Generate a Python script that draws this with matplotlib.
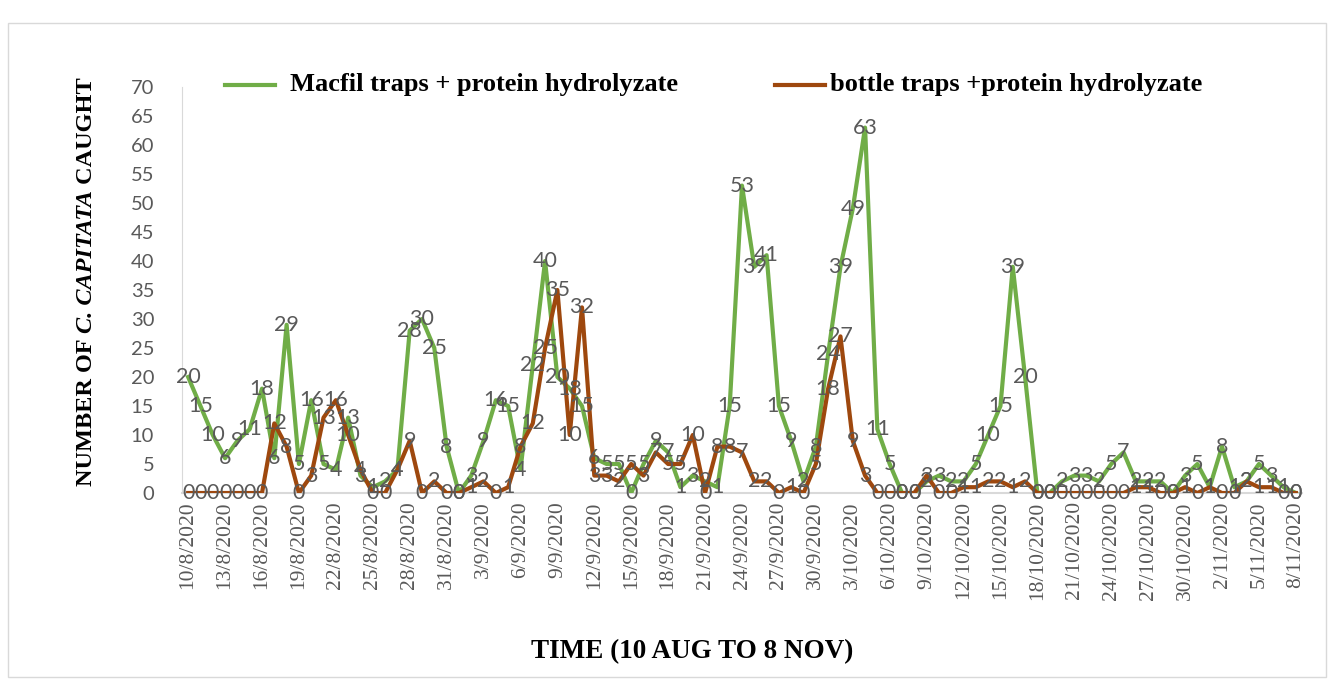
import matplotlib
matplotlib.use("Agg")
import matplotlib.pyplot as plt
from matplotlib.lines import Line2D
from matplotlib.patches import Rectangle
import datetime as dt

# ---------------- data ----------------
start = dt.date(2020, 8, 10)
dates = [start + dt.timedelta(days=i) for i in range(91)]
date_labels = [f"{d.day}/{d.month}/{d.year}" for d in dates]

macfil = [20, 15, 10, 6, 9, 11, 18, 6, 29, 5,
          16, 5, 4, 13, 3, 1, 2, 4, 28, 30,
          25, 8, 0, 3, 9, 16, 15, 4, 22, 40,
          20, 18, 15, 6, 5, 5, 0, 5, 9, 7,
          1, 3, 2, 1, 15, 53, 39, 41, 15, 9,
          2, 8, 24, 39, 49, 63, 11, 5, 0, 0,
          2, 3, 2, 2, 5, 10, 15, 39, 20, 0,
          0, 2, 3, 3, 2, 5, 7, 2, 2, 2,
          0, 3, 5, 1, 8, 1, 2, 5, 3, 1,
          0]

bottle = [0, 0, 0, 0, 0, 0, 0, 12, 8, 0,
          3, 13, 16, 10, 4, 0, 0, 4, 9, 0,
          2, 0, 0, 1, 2, 0, 1, 8, 12, 25,
          35, 10, 32, 3, 3, 2, 5, 3, 7, 5,
          5, 10, 0, 8, 8, 7, 2, 2, 0, 1,
          0, 5, 18, 27, 9, 3, 0, 0, 0, 0,
          3, 0, 0, 1, 1, 2, 2, 1, 2, 0,
          0, 0, 0, 0, 0, 0, 0, 1, 1, 0,
          0, 1, 0, 1, 0, 0, 2, 1, 1, 0,
          0]

series_names = ["Macfil traps + protein hydrolyzate", "bottle traps +protein hydrolyzate"]
green = "#70AD47"
brown = "#9E480E"
gray = "#595959"

W, H = 1332, 681
fig = plt.figure(figsize=(W / 100, H / 100), dpi=100)

# outer chart border
fig.patches.append(Rectangle((8 / W, 4 / H), (1318) / W, (654) / H, transform=fig.transFigure,
                             fill=False, edgecolor="#D9D9D9", linewidth=1.0))

ax_l, ax_r, ax_b, ax_t = 182, 1302, 493, 87
ax = fig.add_axes([ax_l / W, (H - ax_b) / H, (ax_r - ax_l) / W, (ax_b - ax_t) / H])

x = list(range(len(dates)))
ax.plot(x, macfil, color=green, linewidth=3.0, solid_joinstyle="round", zorder=3)
ax.plot(x, bottle, color=brown, linewidth=3.0, solid_joinstyle="round", zorder=4)

label_font = dict(family="Lato", size=15.5, color=gray)
for xi, v in zip(x, macfil):
    ax.text(xi, v, str(v), ha="center", va="center", zorder=5, clip_on=False, **label_font)
for xi, v in zip(x, bottle):
    ax.text(xi, v, str(v), ha="center", va="center", zorder=5, clip_on=False, **label_font)

ax.set_xlim(-0.5, len(x) - 0.5)
ax.set_ylim(0, 70)
ax.set_yticks(range(0, 71, 5))
ax.set_yticklabels([str(v) for v in range(0, 71, 5)], family="Lato", fontsize=14.5, color=gray)
ax.set_xticks(x[::3])
ax.set_xticklabels(date_labels[::3], rotation=90, family="Liberation Serif", fontsize=15.5, color=gray)
ax.tick_params(axis="both", length=0)
ax.tick_params(axis="y", pad=20)
ax.tick_params(axis="x", pad=6)
for s in ["top", "right"]:
    ax.spines[s].set_visible(False)
ax.spines["left"].set_color("#D9D9D9")
ax.spines["bottom"].set_color("#D9D9D9")
ax.spines["bottom"].set_linewidth(1.5)

# x axis title
fig.text(692 / W, (H - 652) / H, "TIME (10 AUG TO 8 NOV)", ha="center", va="center",
         family="Liberation Serif", fontweight="bold", fontsize=19.5, color="black")

# y axis title made of three parts (rotated)
fig.canvas.draw()
renderer = fig.canvas.get_renderer()
parts = [("NUMBER OF ", "normal"), ("C. CAPITATA", "italic"), (" CAUGHT", "normal")]
tmp = []
total = 0
for txt, style in parts:
    t = fig.text(0, 0, txt, rotation=90, family="Liberation Serif", fontweight="bold",
                 fontstyle=style, fontsize=17.5, va="bottom", ha="center")
    bb = t.get_window_extent(renderer)
    tmp.append((t, bb.height))
    total += bb.height
cx = 86
y0 = (H - 282) - total / 2  # bottom in display px (from bottom)
for t, h in tmp:
    t.set_position((cx / W, y0 / H))
    y0 += h

# legend
ly = (H - 85) / H
fig.add_artist(Line2D([225 / W, 275 / W], [ly, ly], color=green, linewidth=3.0, transform=fig.transFigure))
fig.text(290 / W, ly, series_names[0], ha="left", va="center", family="Liberation Serif",
         fontweight="bold", fontsize=19)
fig.add_artist(Line2D([775 / W, 825 / W], [ly, ly], color=brown, linewidth=3.0, transform=fig.transFigure))
fig.text(830 / W, ly, series_names[1], ha="left", va="center", family="Liberation Serif",
         fontweight="bold", fontsize=19)

fig.savefig("out.png", dpi=100)
